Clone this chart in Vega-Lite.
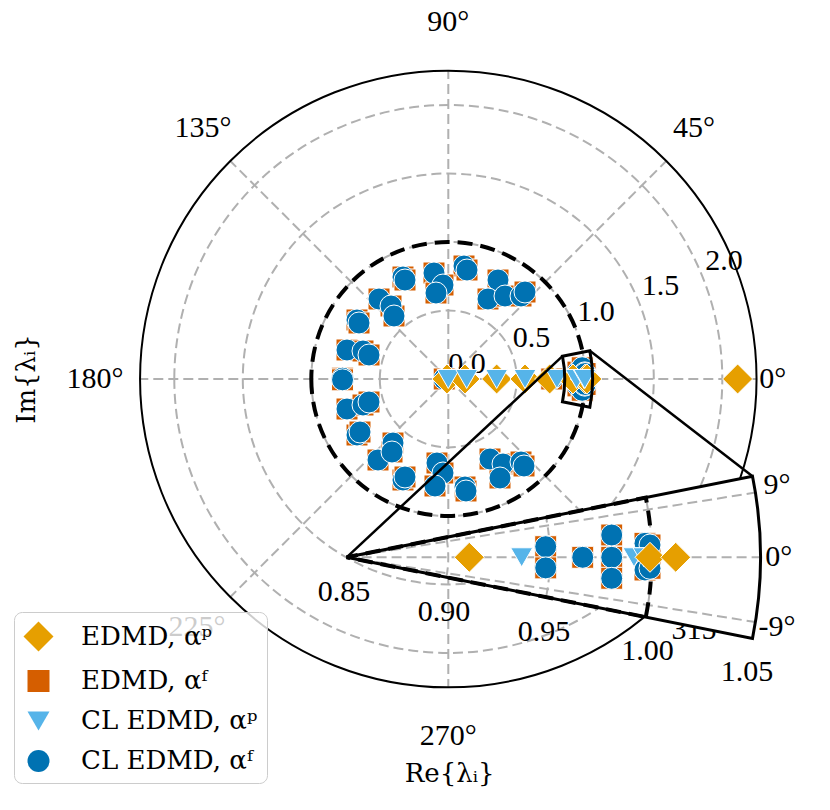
{
  "$schema": "https://vega.github.io/schema/vega-lite/v6.json",
  "width": 830,
  "height": 810,
  "padding": 0,
  "autosize": {"type": "none"},
  "background": "white",
  "config": {
    "view": {"stroke": null},
    "legend": {"fillColor": "rgba(255,255,255,0.8)", "strokeColor": "#cccccc", "cornerRadius": 8, "padding": 9, "rowPadding": 14, "labelFont": "DejaVu Serif", "labelFontSize": 26, "labelColor": "#000000", "labelOffset": 27, "labelLimit": 400, "symbolStrokeColor": "white", "symbolStrokeWidth": 1, "symbolOpacity": 1},
    "text": {"font": "Liberation Serif", "fontSize": 30, "color": "#000000"}
  },
  "datasets": {
    "mcirc": [{"t1": -180, "t2": 181, "r": 0.5}, {"t1": -180, "t2": 181, "r": 1.0}, {"t1": -180, "t2": 181, "r": 1.5}, {"t1": -180, "t2": 181, "r": 2.0}],
    "mframe": [{"t1": -180, "t2": 181, "r": 2.25}],
    "munit": [{"t1": -180, "t2": 181, "r": 1.0}],
    "mbox": [{"t1": -11.3, "t2": 11.3, "r": 1.0535, "r2": 0.85}],
    "mrad": [
      {"x": 0, "y": 0, "x2": 2.25, "y2": 0},
      {"x": 0, "y": 0, "x2": 1.59099, "y2": 1.59099},
      {"x": 0, "y": 0, "x2": 0, "y2": 2.25},
      {"x": 0, "y": 0, "x2": -1.59099, "y2": 1.59099},
      {"x": 0, "y": 0, "x2": -2.25, "y2": 0},
      {"x": 0, "y": 0, "x2": -1.59099, "y2": -1.59099},
      {"x": 0, "y": 0, "x2": 0, "y2": -2.25},
      {"x": 0, "y": 0, "x2": 1.59099, "y2": -1.59099}
    ],
    "mconn": [
      {"x": 0.83352, "y": 0.16656, "x2": -0.74234, "y2": -1.30146},
      {"x": 1.03308, "y": 0.20644, "x2": 2.2204, "y2": -0.7095}
    ],
    "mtext": [
      {"t": "0.0", "x": 0.1365, "y": 0.1095},
      {"t": "0.5", "x": 0.6073, "y": 0.2993},
      {"t": "1.0", "x": 1.0781, "y": 0.4891},
      {"t": "1.5", "x": 1.5489, "y": 0.6788},
      {"t": "2.0", "x": 2.0124, "y": 0.8613},
      {"t": "0°", "x": 2.369, "y": 0},
      {"t": "45°", "x": 1.7934, "y": 1.8321},
      {"t": "90°", "x": 0, "y": 2.6058},
      {"t": "135°", "x": -1.7905, "y": 1.8321},
      {"t": "180°", "x": -2.579, "y": 0},
      {"t": "225°", "x": -1.8343, "y": -1.8102},
      {"t": "270°", "x": 0, "y": -2.6058},
      {"t": "315°", "x": 1.8372, "y": -1.8321}
    ],
    "mxtitle": [{"t": "Re{λᵢ}", "x": 0.01, "y": -2.883}],
    "mtitle": [{"t": "Im{λᵢ}", "x": -3.0752, "y": 0}],
    "mpts": [
      {"s": "EDMD, αᶠ", "re": 0.1146, "im": 0.8248}, {"s": "EDMD, αᶠ", "re": 0.1365, "im": 0.7956}, {"s": "EDMD, αᶠ", "re": -0.1044, "im": 0.7737}, {"s": "EDMD, αᶠ", "re": -0.0387, "im": 0.6861}, {"s": "EDMD, αᶠ", "re": -0.0898, "im": 0.6277}, {"s": "EDMD, αᶠ", "re": -0.3307, "im": 0.7445}, {"s": "EDMD, αᶠ", "re": -0.3161, "im": 0.7226}, {"s": "EDMD, αᶠ", "re": 0.3628, "im": 0.7226}, {"s": "EDMD, αᶠ", "re": 0.2898, "im": 0.5839}, {"s": "EDMD, αᶠ", "re": 0.4139, "im": 0.6058}, {"s": "EDMD, αᶠ", "re": 0.5307, "im": 0.6058}, {"s": "EDMD, αᶠ", "re": 0.5599, "im": 0.635}, {"s": "EDMD, αᶠ", "re": -0.5058, "im": 0.5839}, {"s": "EDMD, αᶠ", "re": -0.4182, "im": 0.5328}, {"s": "EDMD, αᶠ", "re": -0.3963, "im": 0.4599}, {"s": "EDMD, αᶠ", "re": -0.6664, "im": 0.4307}, {"s": "EDMD, αᶠ", "re": -0.6518, "im": 0.4088}, {"s": "EDMD, αᶠ", "re": -0.7394, "im": 0.2117}, {"s": "EDMD, αᶠ", "re": -0.6226, "im": 0.2044}, {"s": "EDMD, αᶠ", "re": -0.5788, "im": 0.1752},
      {"s": "EDMD, αᶠ", "re": -0.772, "im": 0.006}, {"s": "EDMD, αᶠ", "re": -0.772, "im": -0.006},
      {"s": "EDMD, αᶠ", "re": -0.7394, "im": -0.219}, {"s": "EDMD, αᶠ", "re": -0.6226, "im": -0.1898}, {"s": "EDMD, αᶠ", "re": -0.5788, "im": -0.1679}, {"s": "EDMD, αᶠ", "re": -0.6664, "im": -0.4088}, {"s": "EDMD, αᶠ", "re": -0.6445, "im": -0.3869}, {"s": "EDMD, αᶠ", "re": -0.5131, "im": -0.5912}, {"s": "EDMD, αᶠ", "re": -0.4036, "im": -0.4672}, {"s": "EDMD, αᶠ", "re": -0.4109, "im": -0.5328}, {"s": "EDMD, αᶠ", "re": -0.3307, "im": -0.7372}, {"s": "EDMD, αᶠ", "re": -0.3161, "im": -0.7153}, {"s": "EDMD, αᶠ", "re": -0.0825, "im": -0.6131}, {"s": "EDMD, αᶠ", "re": -0.0387, "im": -0.6861}, {"s": "EDMD, αᶠ", "re": -0.0971, "im": -0.781}, {"s": "EDMD, αᶠ", "re": 0.1219, "im": -0.7883}, {"s": "EDMD, αᶠ", "re": 0.1292, "im": -0.8175}, {"s": "EDMD, αᶠ", "re": 0.3044, "im": -0.5839}, {"s": "EDMD, αᶠ", "re": 0.3993, "im": -0.6204}, {"s": "EDMD, αᶠ", "re": 0.3774, "im": -0.7226}, {"s": "EDMD, αᶠ", "re": 0.5307, "im": -0.6058}, {"s": "EDMD, αᶠ", "re": 0.5526, "im": -0.635},
      {"s": "EDMD, αᶠ", "re": -0.03, "im": 0}, {"s": "EDMD, αᶠ", "re": 0.755, "im": 0},
      {"s": "EDMD, αᶠ", "re": 0.9467, "im": 0.0504}, {"s": "EDMD, αᶠ", "re": 0.9467, "im": -0.0504}, {"s": "EDMD, αᶠ", "re": 0.9661, "im": 0}, {"s": "EDMD, αᶠ", "re": 0.9774, "im": 0.0822}, {"s": "EDMD, αᶠ", "re": 0.9774, "im": -0.0822}, {"s": "EDMD, αᶠ", "re": 0.9803, "im": 0}, {"s": "EDMD, αᶠ", "re": 0.9958, "im": 0.045}, {"s": "EDMD, αᶠ", "re": 0.9958, "im": -0.045}, {"s": "EDMD, αᶠ", "re": 0.9985, "im": 0.04}, {"s": "EDMD, αᶠ", "re": 0.9985, "im": -0.04},
      {"s": "CL EDMD, αᶠ", "re": 0.1146, "im": 0.8248}, {"s": "CL EDMD, αᶠ", "re": 0.1365, "im": 0.7956}, {"s": "CL EDMD, αᶠ", "re": -0.1044, "im": 0.7737}, {"s": "CL EDMD, αᶠ", "re": -0.0387, "im": 0.6861}, {"s": "CL EDMD, αᶠ", "re": -0.0898, "im": 0.6277}, {"s": "CL EDMD, αᶠ", "re": -0.3307, "im": 0.7445}, {"s": "CL EDMD, αᶠ", "re": -0.3161, "im": 0.7226}, {"s": "CL EDMD, αᶠ", "re": 0.3628, "im": 0.7226}, {"s": "CL EDMD, αᶠ", "re": 0.2898, "im": 0.5839}, {"s": "CL EDMD, αᶠ", "re": 0.4139, "im": 0.6058}, {"s": "CL EDMD, αᶠ", "re": 0.5307, "im": 0.6058}, {"s": "CL EDMD, αᶠ", "re": 0.5599, "im": 0.635}, {"s": "CL EDMD, αᶠ", "re": -0.5058, "im": 0.5839}, {"s": "CL EDMD, αᶠ", "re": -0.4182, "im": 0.5328}, {"s": "CL EDMD, αᶠ", "re": -0.3963, "im": 0.4599}, {"s": "CL EDMD, αᶠ", "re": -0.6664, "im": 0.4307}, {"s": "CL EDMD, αᶠ", "re": -0.6518, "im": 0.4088}, {"s": "CL EDMD, αᶠ", "re": -0.7394, "im": 0.2117}, {"s": "CL EDMD, αᶠ", "re": -0.6226, "im": 0.2044}, {"s": "CL EDMD, αᶠ", "re": -0.5788, "im": 0.1752},
      {"s": "CL EDMD, αᶠ", "re": -0.772, "im": 0.006}, {"s": "CL EDMD, αᶠ", "re": -0.772, "im": -0.006},
      {"s": "CL EDMD, αᶠ", "re": -0.7394, "im": -0.219}, {"s": "CL EDMD, αᶠ", "re": -0.6226, "im": -0.1898}, {"s": "CL EDMD, αᶠ", "re": -0.5788, "im": -0.1679}, {"s": "CL EDMD, αᶠ", "re": -0.6664, "im": -0.4088}, {"s": "CL EDMD, αᶠ", "re": -0.6445, "im": -0.3869}, {"s": "CL EDMD, αᶠ", "re": -0.5131, "im": -0.5912}, {"s": "CL EDMD, αᶠ", "re": -0.4036, "im": -0.4672}, {"s": "CL EDMD, αᶠ", "re": -0.4109, "im": -0.5328}, {"s": "CL EDMD, αᶠ", "re": -0.3307, "im": -0.7372}, {"s": "CL EDMD, αᶠ", "re": -0.3161, "im": -0.7153}, {"s": "CL EDMD, αᶠ", "re": -0.0825, "im": -0.6131}, {"s": "CL EDMD, αᶠ", "re": -0.0387, "im": -0.6861}, {"s": "CL EDMD, αᶠ", "re": -0.0971, "im": -0.781}, {"s": "CL EDMD, αᶠ", "re": 0.1219, "im": -0.7883}, {"s": "CL EDMD, αᶠ", "re": 0.1292, "im": -0.8175}, {"s": "CL EDMD, αᶠ", "re": 0.3044, "im": -0.5839}, {"s": "CL EDMD, αᶠ", "re": 0.3993, "im": -0.6204}, {"s": "CL EDMD, αᶠ", "re": 0.3774, "im": -0.7226}, {"s": "CL EDMD, αᶠ", "re": 0.5307, "im": -0.6058}, {"s": "CL EDMD, αᶠ", "re": 0.5526, "im": -0.635},
      {"s": "CL EDMD, αᶠ", "re": -0.03, "im": 0}, {"s": "CL EDMD, αᶠ", "re": 0.755, "im": 0},
      {"s": "CL EDMD, αᶠ", "re": 0.9467, "im": 0.0504}, {"s": "CL EDMD, αᶠ", "re": 0.9467, "im": -0.0504}, {"s": "CL EDMD, αᶠ", "re": 0.9661, "im": 0}, {"s": "CL EDMD, αᶠ", "re": 0.9774, "im": 0.0822}, {"s": "CL EDMD, αᶠ", "re": 0.9774, "im": -0.0822}, {"s": "CL EDMD, αᶠ", "re": 0.9803, "im": 0}, {"s": "CL EDMD, αᶠ", "re": 0.9958, "im": 0.045}, {"s": "CL EDMD, αᶠ", "re": 0.9958, "im": -0.045}, {"s": "CL EDMD, αᶠ", "re": 0.9985, "im": 0.04}, {"s": "CL EDMD, αᶠ", "re": 0.9985, "im": -0.04},
      {"s": "EDMD, αᵖ", "re": -0.01, "im": 0}, {"s": "EDMD, αᵖ", "re": 0.122, "im": 0}, {"s": "EDMD, αᵖ", "re": 0.353, "im": 0}, {"s": "EDMD, αᵖ", "re": 0.56, "im": 0}, {"s": "EDMD, αᵖ", "re": 0.74, "im": 0}, {"s": "EDMD, αᵖ", "re": 0.9103, "im": 0}, {"s": "EDMD, αᵖ", "re": 0.9991, "im": 0}, {"s": "EDMD, αᵖ", "re": 1.0118, "im": 0}, {"s": "EDMD, αᵖ", "re": 2.112, "im": 0},
      {"s": "CL EDMD, αᵖ", "re": 0.0, "im": 0}, {"s": "CL EDMD, αᵖ", "re": 0.134, "im": 0}, {"s": "CL EDMD, αᵖ", "re": 0.353, "im": 0}, {"s": "CL EDMD, αᵖ", "re": 0.56, "im": 0}, {"s": "CL EDMD, αᵖ", "re": 0.793, "im": 0}, {"s": "CL EDMD, αᵖ", "re": 0.9361, "im": 0}, {"s": "CL EDMD, αᵖ", "re": 0.9913, "im": 0}, {"s": "CL EDMD, αᵖ", "re": 0.9962, "im": 0}
    ],
    "iwedge": [{"t1": -11.3, "t2": 11.3, "r": 1.0535}],
    "iarcs": [{"t1": -11.3, "t2": 11.3, "r": 0.9}, {"t1": -11.3, "t2": 11.3, "r": 0.95}, {"t1": -11.3, "t2": 11.3, "r": 1.0}],
    "iunit": [{"t1": -11.3, "t2": 11.3, "r": 1.0}],
    "irad": [
      {"x": 0.85, "y": 0, "x2": 1.05099, "y2": 0.03183},
      {"x": 0.85, "y": 0, "x2": 1.0535, "y2": 0},
      {"x": 0.85, "y": 0, "x2": 1.05099, "y2": -0.03183}
    ],
    "itext": [
      {"t": "0.85", "x": 0.8487, "y": -0.01706},
      {"t": "0.90", "x": 0.89789, "y": -0.02675},
      {"t": "0.95", "x": 0.94705, "y": -0.03658},
      {"t": "1.00", "x": 0.99793, "y": -0.04607},
      {"t": "1.05", "x": 1.04685, "y": -0.05639},
      {"t": "9°", "x": 1.0616, "y": 0.03555},
      {"t": "0°", "x": 1.0625, "y": 0.0},
      {"t": "-9°", "x": 1.0616, "y": -0.03427}
    ],
    "ipts": [
      {"s": "EDMD, αᶠ", "ix": 0.94789, "iy": 0.00521}, {"s": "EDMD, αᶠ", "ix": 0.94789, "iy": -0.00521}, {"s": "EDMD, αᶠ", "ix": 0.96608, "iy": 0}, {"s": "EDMD, αᶠ", "ix": 0.98034, "iy": 0.01096}, {"s": "EDMD, αᶠ", "ix": 0.98034, "iy": 0}, {"s": "EDMD, αᶠ", "ix": 0.98034, "iy": -0.01032}, {"s": "EDMD, αᶠ", "ix": 0.9967, "iy": 0.00688}, {"s": "EDMD, αᶠ", "ix": 0.99916, "iy": 0.00605}, {"s": "EDMD, αᶠ", "ix": 0.9967, "iy": -0.00624}, {"s": "EDMD, αᶠ", "ix": 0.99916, "iy": -0.00541},
      {"s": "CL EDMD, αᶠ", "ix": 0.94789, "iy": 0.00521}, {"s": "CL EDMD, αᶠ", "ix": 0.94789, "iy": -0.00521}, {"s": "CL EDMD, αᶠ", "ix": 0.96608, "iy": 0}, {"s": "CL EDMD, αᶠ", "ix": 0.98034, "iy": 0.01096}, {"s": "CL EDMD, αᶠ", "ix": 0.98034, "iy": 0}, {"s": "CL EDMD, αᶠ", "ix": 0.98034, "iy": -0.01032}, {"s": "CL EDMD, αᶠ", "ix": 0.9967, "iy": 0.00688}, {"s": "CL EDMD, αᶠ", "ix": 0.99916, "iy": 0.00605}, {"s": "CL EDMD, αᶠ", "ix": 0.9967, "iy": -0.00624}, {"s": "CL EDMD, αᶠ", "ix": 0.99916, "iy": -0.00541},
      {"s": "CL EDMD, αᵖ", "ix": 0.93608, "iy": 0}, {"s": "CL EDMD, αᵖ", "ix": 0.9913, "iy": 0}, {"s": "CL EDMD, αᵖ", "ix": 0.99621, "iy": 0},
      {"s": "EDMD, αᵖ", "ix": 0.91032, "iy": 0}, {"s": "EDMD, αᵖ", "ix": 0.99916, "iy": 0}, {"s": "EDMD, αᵖ", "ix": 1.0118, "iy": 0}
    ]
  },
  "resolve": {"scale": {"x": "independent", "y": "independent", "theta": "independent", "radius": "independent"}},
  "layer": [
    {
      "layer": [
        {
          "data": {"name": "mcirc"},
          "mark": {"type": "arc", "filled": false, "stroke": "#b0b0b0", "strokeWidth": 2, "strokeDash": [10, 5]},
          "encoding": {
            "x": {"datum": 0, "type": "quantitative", "scale": {"domain": [-3.27226, 2.78613], "nice": false, "zero": false}, "axis": null},
            "y": {"datum": 0, "type": "quantitative", "scale": {"domain": [-3.14599, 2.76642], "nice": false, "zero": false}, "axis": null},
            "theta": {"field": "t1", "type": "quantitative", "stack": null, "scale": {"type": "linear", "domain": [-180, 180], "range": [4.71238898038469, -1.5707963267948966]}},
            "theta2": {"field": "t2"},
            "radius": {"field": "r", "type": "quantitative", "scale": {"type": "linear", "domain": [0, 2.25], "range": [0, 308.25], "zero": false}}
          }
        },
        {
          "data": {"name": "mrad"},
          "mark": {"type": "rule", "stroke": "#b0b0b0", "strokeWidth": 2, "strokeDash": [10, 5]},
          "encoding": {
            "x": {"field": "x", "type": "quantitative", "scale": {"domain": [-3.27226, 2.78613], "nice": false, "zero": false}, "axis": null},
            "y": {"field": "y", "type": "quantitative", "scale": {"domain": [-3.14599, 2.76642], "nice": false, "zero": false}, "axis": null},
            "x2": {"field": "x2"},
            "y2": {"field": "y2"}
          }
        },
        {
          "data": {"name": "mframe"},
          "mark": {"type": "arc", "filled": false, "stroke": "#000000", "strokeWidth": 2},
          "encoding": {
            "x": {"datum": 0, "type": "quantitative", "axis": null},
            "y": {"datum": 0, "type": "quantitative", "axis": null},
            "theta": {"field": "t1", "type": "quantitative", "stack": null},
            "theta2": {"field": "t2"},
            "radius": {"field": "r", "type": "quantitative"}
          }
        },
        {
          "data": {"name": "munit"},
          "mark": {"type": "arc", "filled": false, "stroke": "#000000", "strokeWidth": 4, "strokeDash": [15, 8]},
          "encoding": {
            "x": {"datum": 0, "type": "quantitative", "axis": null},
            "y": {"datum": 0, "type": "quantitative", "axis": null},
            "theta": {"field": "t1", "type": "quantitative", "stack": null},
            "theta2": {"field": "t2"},
            "radius": {"field": "r", "type": "quantitative"}
          }
        },
        {
          "data": {"name": "mtext"},
          "mark": {"type": "text", "align": "center", "baseline": "middle"},
          "encoding": {
            "x": {"field": "x", "type": "quantitative", "axis": null},
            "y": {"field": "y", "type": "quantitative", "axis": null},
            "text": {"field": "t"}
          }
        },
        {
          "data": {"name": "mxtitle"},
          "mark": {"type": "text", "align": "center", "baseline": "middle", "font": "DejaVu Serif", "fontSize": 26},
          "encoding": {
            "x": {"field": "x", "type": "quantitative", "axis": null},
            "y": {"field": "y", "type": "quantitative", "axis": null},
            "text": {"field": "t"}
          }
        },
        {
          "data": {"name": "mtitle"},
          "mark": {"type": "text", "align": "center", "baseline": "middle", "angle": 270, "font": "DejaVu Serif", "fontSize": 26},
          "encoding": {
            "x": {"field": "x", "type": "quantitative", "axis": null},
            "y": {"field": "y", "type": "quantitative", "axis": null},
            "text": {"field": "t"}
          }
        },
        {
          "data": {"name": "mpts"},
          "mark": {"type": "point", "filled": true, "opacity": 1, "stroke": "white", "strokeWidth": 1},
          "encoding": {
            "x": {"field": "re", "type": "quantitative", "axis": null},
            "y": {"field": "im", "type": "quantitative", "axis": null},
            "color": {"field": "s", "type": "nominal", "scale": {"domain": ["EDMD, αᵖ", "EDMD, αᶠ", "CL EDMD, αᵖ", "CL EDMD, αᶠ"], "range": ["#E69F00", "#D55E00", "#56B4E9", "#0072B2"]}, "legend": {"orient": "none", "legendX": 14, "legendY": 612, "title": null}},
            "shape": {"field": "s", "type": "nominal", "scale": {"domain": ["EDMD, αᵖ", "EDMD, αᶠ", "CL EDMD, αᵖ", "CL EDMD, αᶠ"], "range": ["diamond", "square", "triangle-down", "circle"]}, "legend": {"orient": "none", "legendX": 14, "legendY": 612, "title": null}},
            "size": {"field": "s", "type": "nominal", "scale": {"type": "ordinal", "domain": ["EDMD, αᵖ", "EDMD, αᶠ", "CL EDMD, αᵖ", "CL EDMD, αᶠ"], "range": [900, 484, 484, 484]}, "legend": {"orient": "none", "legendX": 14, "legendY": 612, "title": null}}
          }
        },
        {
          "data": {"name": "mbox"},
          "mark": {"type": "arc", "filled": false, "stroke": "#000000", "strokeWidth": 3},
          "encoding": {
            "x": {"datum": 0, "type": "quantitative", "axis": null},
            "y": {"datum": 0, "type": "quantitative", "axis": null},
            "theta": {"field": "t1", "type": "quantitative", "stack": null},
            "theta2": {"field": "t2"},
            "radius": {"field": "r", "type": "quantitative"},
            "radius2": {"field": "r2"}
          }
        },
        {
          "data": {"name": "mconn"},
          "mark": {"type": "rule", "stroke": "#000000", "strokeWidth": 2.5},
          "encoding": {
            "x": {"field": "x", "type": "quantitative", "axis": null},
            "y": {"field": "y", "type": "quantitative", "axis": null},
            "x2": {"field": "x2"},
            "y2": {"field": "y2"}
          }
        }
      ]
    },
    {
      "layer": [
        {
          "data": {"name": "iwedge"},
          "mark": {"type": "arc", "fill": "white", "strokeWidth": 0},
          "encoding": {
            "x": {"datum": 0.85, "type": "quantitative", "scale": {"domain": [0.679597, 1.08766], "nice": false, "zero": false}, "axis": null},
            "y": {"datum": 0, "type": "quantitative", "scale": {"domain": [-0.124238, 0.273992], "nice": false, "zero": false}, "axis": null},
            "theta": {"field": "t1", "type": "quantitative", "stack": null, "scale": {"type": "linear", "domain": [-180, 180], "range": [4.71238898038469, -1.5707963267948966]}},
            "theta2": {"field": "t2"},
            "radius": {"field": "r", "type": "quantitative", "scale": {"type": "linear", "domain": [0.85, 1.0535], "range": [0, 413.92], "zero": false}}
          }
        },
        {
          "data": {"name": "iarcs"},
          "mark": {"type": "arc", "filled": false, "stroke": "#b0b0b0", "strokeWidth": 2, "strokeDash": [10, 5]},
          "encoding": {
            "x": {"datum": 0.85, "type": "quantitative", "axis": null},
            "y": {"datum": 0, "type": "quantitative", "axis": null},
            "theta": {"field": "t1", "type": "quantitative", "stack": null},
            "theta2": {"field": "t2"},
            "radius": {"field": "r", "type": "quantitative"}
          }
        },
        {
          "data": {"name": "irad"},
          "mark": {"type": "rule", "stroke": "#b0b0b0", "strokeWidth": 2, "strokeDash": [10, 5]},
          "encoding": {
            "x": {"field": "x", "type": "quantitative", "axis": null},
            "y": {"field": "y", "type": "quantitative", "axis": null},
            "x2": {"field": "x2"},
            "y2": {"field": "y2"}
          }
        },
        {
          "data": {"name": "iunit"},
          "mark": {"type": "arc", "filled": false, "stroke": "#000000", "strokeWidth": 4, "strokeDash": [15, 8]},
          "encoding": {
            "x": {"datum": 0.85, "type": "quantitative", "axis": null},
            "y": {"datum": 0, "type": "quantitative", "axis": null},
            "theta": {"field": "t1", "type": "quantitative", "stack": null},
            "theta2": {"field": "t2"},
            "radius": {"field": "r", "type": "quantitative"}
          }
        },
        {
          "data": {"name": "ipts"},
          "mark": {"type": "point", "filled": true, "opacity": 1, "stroke": "white", "strokeWidth": 1},
          "encoding": {
            "x": {"field": "ix", "type": "quantitative", "axis": null},
            "y": {"field": "iy", "type": "quantitative", "axis": null},
            "color": {"field": "s", "type": "nominal", "scale": {"domain": ["EDMD, αᵖ", "EDMD, αᶠ", "CL EDMD, αᵖ", "CL EDMD, αᶠ"], "range": ["#E69F00", "#D55E00", "#56B4E9", "#0072B2"]}, "legend": {"orient": "none", "legendX": 14, "legendY": 612, "title": null}},
            "shape": {"field": "s", "type": "nominal", "scale": {"domain": ["EDMD, αᵖ", "EDMD, αᶠ", "CL EDMD, αᵖ", "CL EDMD, αᶠ"], "range": ["diamond", "square", "triangle-down", "circle"]}, "legend": {"orient": "none", "legendX": 14, "legendY": 612, "title": null}},
            "size": {"field": "s", "type": "nominal", "scale": {"type": "ordinal", "domain": ["EDMD, αᵖ", "EDMD, αᶠ", "CL EDMD, αᵖ", "CL EDMD, αᶠ"], "range": [900, 484, 484, 484]}, "legend": {"orient": "none", "legendX": 14, "legendY": 612, "title": null}}
          }
        },
        {
          "data": {"name": "iwedge"},
          "mark": {"type": "arc", "filled": false, "stroke": "#000000", "strokeWidth": 3},
          "encoding": {
            "x": {"datum": 0.85, "type": "quantitative", "axis": null},
            "y": {"datum": 0, "type": "quantitative", "axis": null},
            "theta": {"field": "t1", "type": "quantitative", "stack": null},
            "theta2": {"field": "t2"},
            "radius": {"field": "r", "type": "quantitative"}
          }
        },
        {
          "data": {"name": "itext"},
          "mark": {"type": "text", "align": "center", "baseline": "middle"},
          "encoding": {
            "x": {"field": "x", "type": "quantitative", "axis": null},
            "y": {"field": "y", "type": "quantitative", "axis": null},
            "text": {"field": "t"}
          }
        }
      ]
    }
  ]
}
